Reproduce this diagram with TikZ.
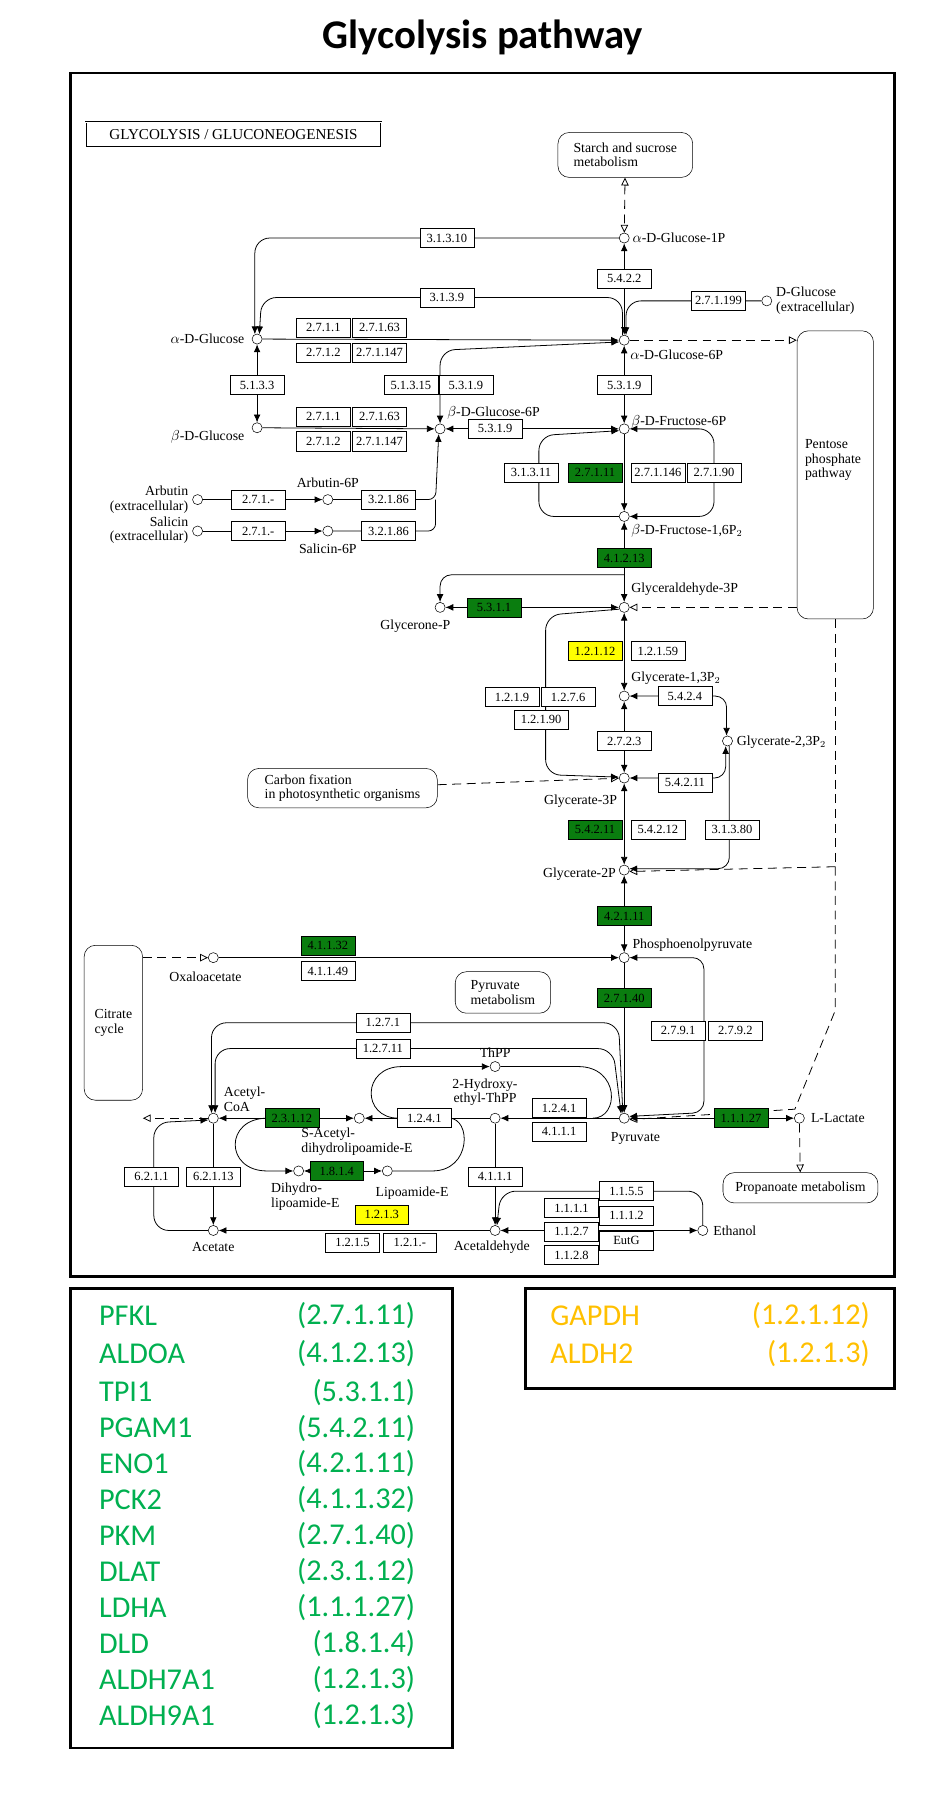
\documentclass[tikz,border=0pt]{standalone}
\usepackage{fontspec}
\setmainfont{Liberation Serif}
\newfontfamily\legfont{Carlito}
\usetikzlibrary{arrows.meta,shapes.geometric}
\pgfdeclarelayer{back}\pgfdeclarelayer{bg}\pgfsetlayers{back,bg,main}
\definecolor{kgreen}{RGB}{10,125,15}
\definecolor{kyellow}{RGB}{255,255,0}
\definecolor{lgreen}{RGB}{0,176,80}
\definecolor{lyellow}{RGB}{255,192,0}
\tikzset{
 ec/.style={draw,fill=white,minimum width=14.4mm,minimum height=5.1mm,inner sep=0pt,font=\fontsize{9.5}{10}\selectfont},
 ecg/.style={ec,fill=kgreen},
 ecy/.style={ec,fill=kyellow},
 m/.style={circle,draw,fill=white,minimum size=2.7mm,inner sep=0pt},
 lab/.style={font=\fontsize{10.5}{11}\selectfont,inner sep=1pt},
 map/.style={draw,rounded corners=3mm,fill=white,font=\fontsize{10.5}{11}\selectfont,align=left},
 ln/.style={line width=0.6pt,-{Latex[length=2.1mm,width=1.8mm]}},
 bl/.style={line width=0.6pt,{Latex[length=2.1mm,width=1.8mm]}-{Latex[length=2.1mm,width=1.8mm]}},
 pl/.style={line width=0.6pt},
 dl/.style={line width=0.6pt,dash pattern=on 2.4mm off 1.5mm,-{Triangle[open,length=2.1mm,width=2mm]}},
 leg/.style={font=\legfont\fontsize{23}{26}\selectfont,inner sep=0pt},
}
\begin{document}
\begin{tikzpicture}[x=0.3mm,y=-0.3mm]
\begin{pgfonlayer}{back}
\fill[white] (0,0) rectangle (840,1614);
\end{pgfonlayer}
\useasboundingbox (0,0) rectangle (840,1614);
\node[font=\legfont\bfseries\fontsize{31}{34}\selectfont] (title) at (430,33) {Glycolysis pathway};
\draw[line width=0.75mm] (63,65) rectangle (797,1137);
\draw[line width=0.75mm] (63,1148) rectangle (403,1557);
\draw[line width=0.75mm] (468,1148) rectangle (797,1237);

% maps
\node[draw,double,double distance=0.6pt,font=\fontsize{11.5}{12}\selectfont,minimum width=79mm,minimum height=6.6mm] (gly) at (208,120) {GLYCOLYSIS / GLUCONEOGENESIS};
\node[map,minimum width=36mm,minimum height=12mm] (starch) at (557,138) {Starch and sucrose\\metabolism};
\node[map,minimum width=20.4mm,minimum height=77mm] (ppp) at (744,423) {};
\node[lab,align=left] (ppptxt) at (742,410) {Pentose\\phosphate\\pathway};
\node[map,minimum width=50.7mm,minimum height=10.5mm] (carbon) at (305,702) {Carbon fixation\\in photosynthetic organisms};
\node[map,minimum width=15.6mm,minimum height=41.4mm] (citrate) at (101,911) {Citrate\\cycle};
\node[map,minimum width=25.5mm,minimum height=11.1mm] (pyrmet) at (448,884) {Pyruvate\\metabolism};
\node[map,minimum width=41.4mm,minimum height=8.1mm] (propan) at (713,1058) {Propanoate metabolism};

% metabolites
\foreach \n/\x/\y in {g1p/556/212,g6p/556/303,dglc/683/268,aglc/229/302,bglc/229/381,bg6p/392/382,f6p/556/382,f16p/556/460,arb/176/445,arb6p/292/445,sal/176/473,sal6p/292/473,g3p/556/541,gnp/392/541,g13p/556/620,g23p/648/660,gl3p/556/693,gl2p/556/775,pep/556/853,oaa/190/853,pyr/556/996,lac/712/996,thpp/441/950,hthpp/441/996,sacl/320/996,acoa/190/996,dhl/266/1043,lip/345/1043,acet/190/1096,acald/441/1096,etoh/626/1096}
  \node[m] (\n) at (\x,\y) {};

% enzymes
\node[ec] (e1) at (398,212) {3.1.3.10};
\node[ec] (e2) at (556,248) {5.4.2.2};
\node[ec] (e3) at (398,265) {3.1.3.9};
\node[ec] (e4) at (640,268) {2.7.1.199};
\node[ec] (e5) at (288,292) {2.7.1.1};
\node[ec] (e6) at (338,292) {2.7.1.63};
\node[ec] (e7) at (288,314) {2.7.1.2};
\node[ec] (e8) at (338,314) {2.7.1.147};
\node[ec] (e9) at (229,343) {5.1.3.3};
\node[ec] (e10) at (366,343) {5.1.3.15};
\node[ec] (e11) at (415,343) {5.3.1.9};
\node[ec] (e12) at (556,343) {5.3.1.9};
\node[ec] (e13) at (288,371) {2.7.1.1};
\node[ec] (e14) at (338,371) {2.7.1.63};
\node[ec] (e15) at (288,393) {2.7.1.2};
\node[ec] (e16) at (338,393) {2.7.1.147};
\node[ec] (e17) at (441,382) {5.3.1.9};
\node[ec] (e18) at (473,421) {3.1.3.11};
\node[ecg] (e19) at (530,421) {2.7.1.11};
\node[ec] (e20) at (586,421) {2.7.1.146};
\node[ec] (e21) at (636,421) {2.7.1.90};
\node[ec] (e22) at (230,445) {2.7.1.-};
\node[ec] (e23) at (346,445) {3.2.1.86};
\node[ec] (e24) at (230,473) {2.7.1.-};
\node[ec] (e25) at (346,473) {3.2.1.86};
\node[ecg] (e26) at (556,497) {4.1.2.13};
\node[ecg] (e27) at (440,541) {5.3.1.1};
\node[ecy] (e28) at (530,580) {1.2.1.12};
\node[ec] (e29) at (586,580) {1.2.1.59};
\node[ec] (e30) at (456,621) {1.2.1.9};
\node[ec] (e31) at (506,621) {1.2.7.6};
\node[ec] (e32) at (482,641) {1.2.1.90};
\node[ec] (e33) at (610,620) {5.4.2.4};
\node[ec] (e34) at (556,660) {2.7.2.3};
\node[ec] (e35) at (610,697) {5.4.2.11};
\node[ecg] (e36) at (530,739) {5.4.2.11};
\node[ec] (e37) at (586,739) {5.4.2.12};
\node[ec] (e38) at (652,739) {3.1.3.80};
\node[ecg] (e39) at (556,816) {4.2.1.11};
\node[ecg] (e40) at (292,842) {4.1.1.32};
\node[ec] (e41) at (292,865) {4.1.1.49};
\node[ecg] (e42) at (556,889) {2.7.1.40};
\node[ec] (e43) at (604,918) {2.7.9.1};
\node[ec] (e44) at (655,918) {2.7.9.2};
\node[ec] (e45) at (341,911) {1.2.7.1};
\node[ec] (e46) at (341,934) {1.2.7.11};
\node[ec] (e47) at (498,987) {1.2.4.1};
\node[ec] (e48) at (498,1008) {4.1.1.1};
\node[ecg] (e49) at (660,996) {1.1.1.27};
\node[ec] (e50) at (378,996) {1.2.4.1};
\node[ecg] (e51) at (260,996) {2.3.1.12};
\node[ecg] (e52) at (300,1043) {1.8.1.4};
\node[ec] (e53) at (135,1048) {6.2.1.1};
\node[ec] (e54) at (190,1048) {6.2.1.13};
\node[ec] (e55) at (441,1048) {4.1.1.1};
\node[ecy] (e56) at (340,1082) {1.2.1.3};
\node[ec] (e57) at (314,1107) {1.2.1.5};
\node[ec] (e58) at (365,1107) {1.2.1.-};
\node[ec] (e59) at (558,1061) {1.1.5.5};
\node[ec] (e60) at (509,1076) {1.1.1.1};
\node[ec] (e61) at (558,1083) {1.1.1.2};
\node[ec] (e62) at (509,1097) {1.1.2.7};
\node[ec] (e63) at (558,1105) {EutG};
\node[ec] (e64) at (509,1118) {1.1.2.8};

% labels
\node[lab,anchor=west] (l1) at (562,212) {$\alpha$-D-Glucose-1P};
\node[lab,anchor=west,align=left] (l2) at (690,268) {D-Glucose\\(extracellular)};
\node[lab,anchor=east] (l3) at (219,302) {$\alpha$-D-Glucose};
\node[lab,anchor=west] (l4) at (560,316) {$\alpha$-D-Glucose-6P};
\node[lab,anchor=east] (l5) at (219,389) {$\beta$-D-Glucose};
\node[lab,anchor=west] (l6) at (397,368) {$\beta$-D-Glucose-6P};
\node[lab,anchor=west] (l7) at (561,376) {$\beta$-D-Fructose-6P};
\node[lab,anchor=west] (l8) at (561,473) {$\beta$-D-Fructose-1,6P$_2$};
\node[lab,anchor=east,align=right] (l9) at (169,445) {Arbutin\\(extracellular)};
\node[lab] (l10) at (292,430) {Arbutin-6P};
\node[lab,anchor=east,align=right] (l11) at (169,472) {Salicin\\(extracellular)};
\node[lab] (l12) at (292,489) {Salicin-6P};
\node[lab,anchor=west] (l13) at (561,525) {Glyceraldehyde-3P};
\node[lab] (l14) at (370,558) {Glycerone-P};
\node[lab,anchor=west] (l15) at (561,604) {Glycerate-1,3P$_2$};
\node[lab,anchor=west] (l16) at (655,661) {Glycerate-2,3P$_2$};
\node[lab,anchor=east] (l17) at (551,714) {Glycerate-3P};
\node[lab,anchor=east] (l18) at (550,779) {Glycerate-2P};
\node[lab,anchor=west] (l19) at (562,842) {Phosphoenolpyruvate};
\node[lab] (l20) at (183,870) {Oxaloacetate};
\node[lab] (l21) at (441,938) {ThPP};
\node[lab,align=center] (l22) at (432,973) {2-Hydroxy-\\ethyl-ThPP};
\node[lab] (l23) at (566,1014) {Pyruvate};
\node[lab,anchor=west] (l24) at (721,996) {L-Lactate};
\node[lab,anchor=west,align=left] (l25) at (198,979) {Acetyl-\\CoA};
\node[lab,align=left] (l26) at (318,1017) {S-Acetyl-\\dihydrolipoamide-E};
\node[lab,align=left] (l27) at (272,1066) {Dihydro-\\lipoamide-E};
\node[lab] (l28) at (367,1063) {Lipoamide-E};
\node[lab] (l29) at (190,1111) {Acetate};
\node[lab] (l30) at (438,1111) {Acetaldehyde};
\node[lab,anchor=west] (l31) at (634,1096) {Ethanol};

% connectors
\begin{pgfonlayer}{bg}
\draw[dl,{Triangle[open,length=2.1mm,width=2mm]}-{Triangle[open,length=2.1mm,width=2mm]}] (starch) -- (g1p);
\draw[ln,rounded corners=4mm] (g1p) -| (aglc.115);
\draw[ln,rounded corners=4mm] (g6p.110) |- (233,265) -- (aglc.65);
\draw[ln,rounded corners=4mm] (dglc) -| (g6p.70);
\draw[bl] (g1p) -- (g6p);
\draw[ln] (aglc) -- (g6p);
\draw[dl] (g6p) -- (ppp.west |- g6p);
\draw[bl] (aglc) -- (bglc);
\draw[ln] (bglc) -- (bg6p);
\draw[bl,rounded corners=4mm] (bg6p) -- (392,312) -- (g6p.200);
\draw[bl] (bg6p) -- (f6p);
\draw[bl] (g6p) -- (f6p);
\draw[ln] (arb) -- (arb6p);
\draw[ln] (sal) -- (sal6p);
\draw[ln,rounded corners=2mm] (arb6p) -- (388,445) -- (bg6p.255);
\draw[pl,rounded corners=2mm] (sal6p) -- (388,473) -- (388,445);
\draw[ln] (f6p) -- (f16p);
\draw[ln,rounded corners=4mm] (f16p) -- (480,460) -- (480,388) -- (f6p.200);
\draw[bl,rounded corners=4mm] (f16p) -- (636,460) -- (636,382) -- (f6p);
\draw[bl] (f16p) -- (g3p);
\coordinate (br1) at (556,512);
\draw[ln,rounded corners=3mm] (br1) -| (gnp);
\draw[bl] (gnp) -- (g3p);
\draw[dl] (ppp.west |- g3p) -- (g3p);
\draw[bl] (g3p) -- (g13p);
\draw[ln,rounded corners=4mm] (g3p.200) -- (486,548) -- (486,690) -- (gl3p.170);
\draw[bl] (g13p) -- (gl3p);
\draw[bl,rounded corners=3mm] (g13p) -| (g23p.100);
\draw[bl,rounded corners=3mm] (gl3p) -| (g23p.250);
\draw[dl] (carbon) -- (gl3p);
\draw[bl] (gl3p) -- (gl2p);
\draw[ln,rounded corners=3mm] (g23p.290) |- (gl2p.15);
\coordinate (d1) at (744,772);
\draw[pl,dash pattern=on 2.4mm off 1.5mm] (ppp.south) -- (d1);
\draw[dl] (d1) -- (gl2p.345);
\draw[dl] (d1) -- (744,900) -- (708,988) -- (pyr.345);
\draw[bl] (gl2p) -- (pep);
\draw[dl] (citrate.east |- oaa) -- (oaa);
\draw[ln] (oaa) -- (pep);
\draw[ln] (pep) -- (pyr);
\draw[bl,rounded corners=3mm] (pyr.20) -- (627,991) |- (pep);
\draw[bl] (pyr) -- (lac);
\draw[dl] (lac) -- (propan);
\draw[bl,rounded corners=4mm] (acoa.110) |- (551,911) -- (pyr.105);
\draw[bl,rounded corners=4mm] (acoa.70) |- (546,934) -- (pyr.125);
\coordinate (t1) at (355,996);
\coordinate (t2) at (528,996);
\draw[ln] (t1) .. controls (322,996) and (322,950) .. (358,950) -- (thpp);
\draw[pl] (thpp) -- (515,950) .. controls (552,950) and (552,996) .. (t2);
\draw[ln] (pyr) -- (hthpp);
\draw[ln] (hthpp) -- (sacl);
\draw[bl] (sacl) -- (acoa);
\draw[dl] (acoa) -- (citrate.east |- acoa);
\coordinate (t3) at (238,996);
\coordinate (t4) at (400,996);
\draw[ln] (t3) .. controls (200,996) and (200,1043) .. (238,1043) -- (dhl);
\draw[pl] (lip) -- (385,1043) .. controls (420,1043) and (420,996) .. (t4);
\draw[bl] (dhl) -- (lip);
\draw[ln] (acoa) -- (acet);
\draw[ln,rounded corners=4mm] (acet) -- (137,1096) -- (137,1000) -- (acoa.200);
\draw[ln] (acald) -- (acet);
\draw[ln] (hthpp) -- (acald);
\draw[bl] (acald) -- (etoh);
\draw[ln,rounded corners=4mm] (etoh) |- (446,1061) -- (acald.70);
\end{pgfonlayer}

% legend
\foreach \g/\e/\y in {PFKL/2.7.1.11/1172,ALDOA/4.1.2.13/1206,TPI1/5.3.1.1/1240,PGAM1/5.4.2.11/1272,ENO1/4.2.1.11/1304,PCK2/4.1.1.32/1336,PKM/2.7.1.40/1368,DLAT/2.3.1.12/1400,LDHA/1.1.1.27/1432,DLD/1.8.1.4/1464,ALDH7A1/1.2.1.3/1496,ALDH9A1/1.2.1.3/1528}{
  \node[leg,text=lgreen,anchor=west] (g\g) at (88,\y) {\g};
  \node[leg,text=lgreen,anchor=east] (c\g) at (370,\y) {(\e)};
}
\node[leg,text=lyellow,anchor=west] (gG) at (490,1172) {GAPDH};
\node[leg,text=lyellow,anchor=east] (cG) at (775,1172) {(1.2.1.12)};
\node[leg,text=lyellow,anchor=west] (gA) at (490,1206) {ALDH2};
\node[leg,text=lyellow,anchor=east] (cA) at (775,1206) {(1.2.1.3)};
\end{tikzpicture}
\end{document}
